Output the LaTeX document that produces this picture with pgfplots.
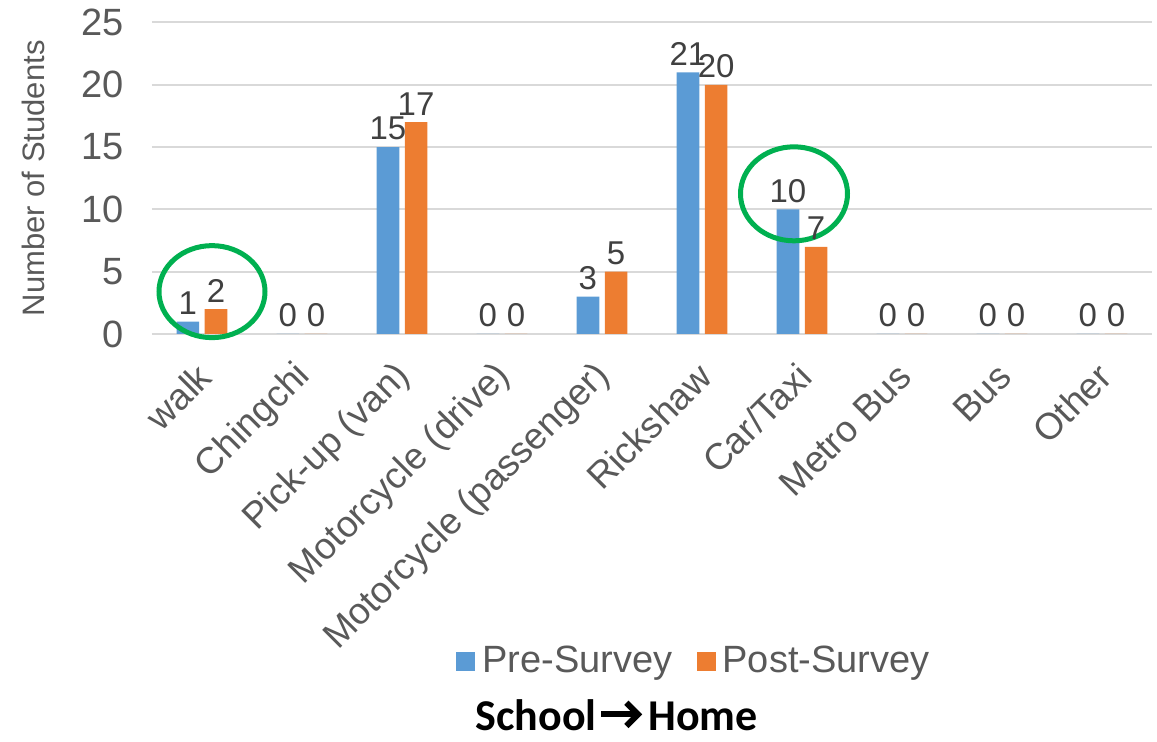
\documentclass[border=0pt]{standalone}
\usepackage{pgfplots}
\usepackage{pgfplotstable}
\pgfplotsset{compat=1.18}
\usepackage{fontspec}
\setmainfont{Liberation Sans}
\newfontfamily\titlefont{Carlito}
\definecolor{preblue}{HTML}{5B9BD5}
\definecolor{postorange}{HTML}{ED7D31}
\definecolor{gridgray}{HTML}{D9D9D9}
\definecolor{labelgray}{HTML}{595959}
\definecolor{valgray}{HTML}{404040}
\definecolor{ringgreen}{HTML}{00B050}

% mode of travel, school -> home
\pgfplotstableread{
idx pre post
0   1   2
1   0   0
2   15  17
3   0   0
4   3   5
5   21  20
6   10  7
7   0   0
8   0   0
9   0   0
}\modedata

\begin{document}
\begin{tikzpicture}
\path[use as bounding box] (-76pt,-204pt) rectangle (502.5pt,167pt);
\begin{axis}[
  at={(0pt,0pt)}, anchor=south west,
  scale only axis, width=500pt, height=155.75pt,
  xmin=-0.5, xmax=9.5, ymin=0, ymax=25,
  ytick={0,5,...,25},
  xtick={0,...,9},
  xticklabels={walk,Chingchi,Pick-up (van),Motorcycle (drive),Motorcycle (passenger),Rickshaw,Car/Taxi,Metro Bus,Bus,Other},
  ymajorgrids,
  grid style={gridgray, line width=1pt},
  axis line style={draw=none},
  major tick length=0pt,
  /pgf/number format/assume math mode=true,
  yticklabel style={font=\fontsize{19}{19}\selectfont, text=labelgray, xshift=-10.5pt},
  xticklabel style={font=\fontsize{18.5}{18.5}\selectfont, text=labelgray,
    anchor=east, xshift=3.85pt, yshift=-15.8pt, rotate=45},
  ylabel={Number of Students},
  every axis y label/.style={at={(axis description cs:-0.119,0.5)}, rotate=90, anchor=center,
    font=\fontsize{15.5}{15.5}\selectfont, text=labelgray},
  ybar=2.75pt, bar width=11.35pt,
  nodes near coords,
  every node near coord/.append style={font=\fontsize{16.5}{16.5}\selectfont, text=valgray},
  legend style={at={(0.543,-1.05)}, anchor=center, draw=none, fill=none,
    font=\fontsize{19}{19}\selectfont, text=labelgray, legend columns=2,
    /tikz/every odd column/.append style={column sep=1.5pt},
    /tikz/every even column/.append style={column sep=10pt}},
  clip=false,
]
\addplot[fill=preblue, draw=none,
  legend image code/.code={\fill[preblue] (0pt,-4.75pt) rectangle (9.5pt,4.75pt);}]
  table[x=idx, y=pre] {\modedata};
\addlegendentry{Pre-Survey}
\addplot[fill=postorange, draw=none,
  legend image code/.code={\fill[postorange] (0pt,-4.75pt) rectangle (9.5pt,4.75pt);}]
  table[x=idx, y=post] {\modedata};
\addlegendentry{Post-Survey}

% highlight rings
\draw[ringgreen, line width=2.5pt] (axis cs:0.1,3.4) ellipse [x radius=26.5pt, y radius=23pt];
\draw[ringgreen, line width=2.5pt] (axis cs:5.92,11.25) ellipse [x radius=26.75pt, y radius=23.5pt];
\end{axis}
% title: School -> Home
\node[font=\titlefont\bfseries\fontsize{22}{22}\selectfont, anchor=base east, inner sep=0pt]
  at (222.5pt,-198.4pt) {School};
\node[font=\titlefont\bfseries\fontsize{22}{22}\selectfont, anchor=base west, inner sep=0pt]
  at (248pt,-198.4pt) {Home};
\draw[line width=3pt] (224.5pt,-190.2pt) -- (243pt,-190.2pt);
\draw[line width=3pt, miter limit=4] (237.2pt,-184.4pt) -- (243pt,-190.2pt) -- (237.2pt,-196pt);
\end{tikzpicture}
\end{document}
